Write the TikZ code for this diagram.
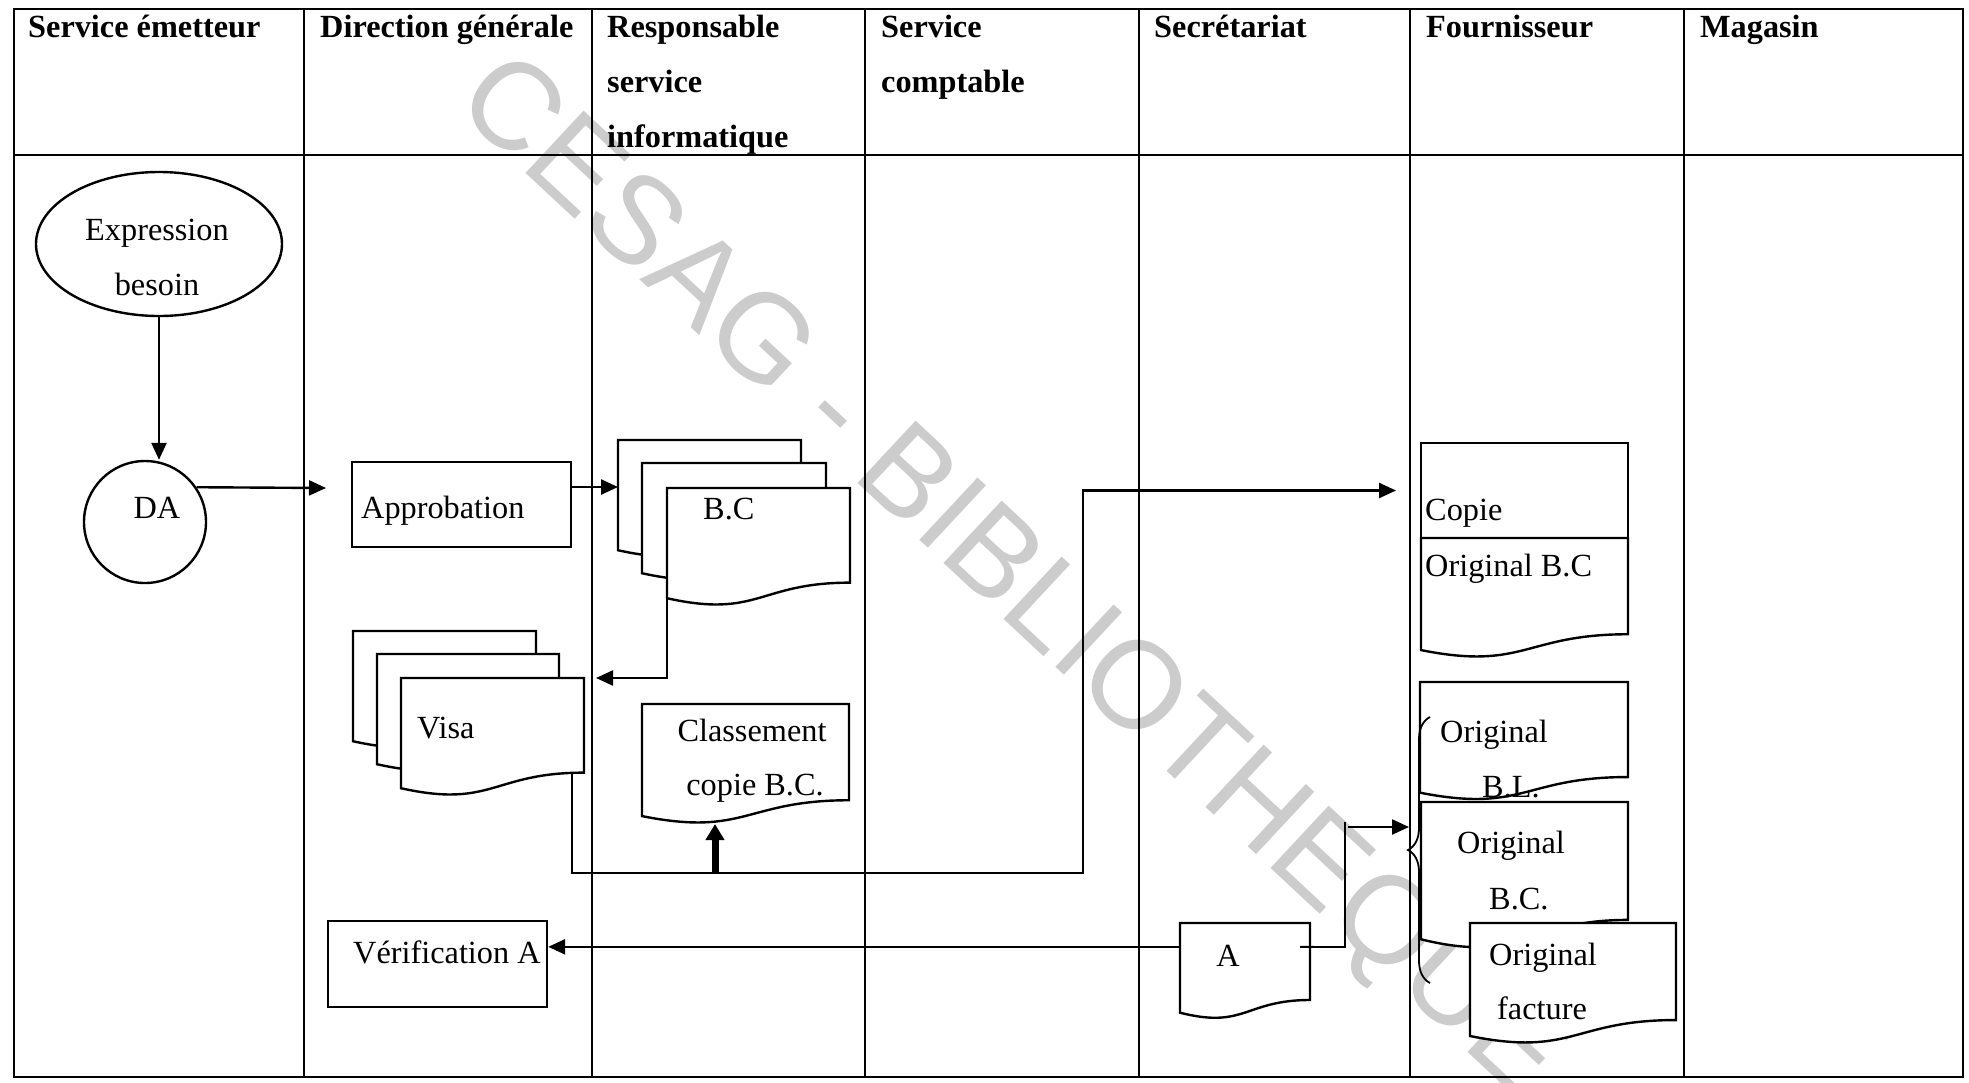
\documentclass[tikz,border=0pt]{standalone}
\usepackage{fontspec}
\setmainfont{Liberation Serif}
\newfontfamily\wmfont{Liberation Sans}
\usetikzlibrary{arrows.meta,shapes.geometric,decorations.pathreplacing,calc}
\tikzset{
  every node/.style={font=\fontsize{32.3}{55}\selectfont},
  ln/.style={line width=2.4pt},
  thinln/.style={line width=1.8pt},
  arr/.style={ln, -{Triangle[length=17pt,width=15pt]}},
  thickarr/.style={line width=7pt, -{Triangle[length=16pt,width=18pt]}},
  box/.style={draw, ln, fill=white, rectangle, inner sep=0},
  docbox/.style 2 args={inner sep=0, outer sep=0, minimum width=#1, minimum height={0.934*#2}, anchor=north west},
  docline/.style={draw, ln, fill=white},
  txt/.style={inner sep=0, anchor=base west},
  ctxt/.style={inner sep=0, anchor=base},
  hd/.style={inner sep=0, anchor=base west, font=\fontsize{32.3}{55}\selectfont\bfseries},
}
\newcommand\docout[2]{%
  \path[docline] (#1.north west) -- (#1.north east) -- ([yshift={-0.802*#2}]#1.north east)
   .. controls ([yshift={-0.802*#2}]#1.north) and ([yshift={-1.107*#2}]#1.north) .. (#1.south west) -- cycle;}
\begin{document}
\begin{tikzpicture}[x=1pt,y=-1pt]
\path[fill=white,use as bounding box] (0,0) rectangle (1969,1082);

% watermark
\node[font=\wmfont\fontsize{124}{124}\selectfont, text=black!20, rotate=-43, anchor=west, inner sep=0] (wm) at (474,82) {CESAG - BIBLIOTHEQUE};

% table
\draw[ln] (14,9) rectangle (1963,1077);
\draw[ln] (14,155) -- (1963,155);
\foreach \x in {304,592,865,1139,1410,1684} \draw[ln] (\x,9) -- (\x,1077);

% headers
\node[hd] (h1) at (28,37) {Service émetteur};
\node[hd] (h2) at (320,37) {Direction générale};
\node[hd] (h3a) at (607,37) {Responsable};
\node[hd] (h3b) at (607,92) {service};
\node[hd] (h3c) at (607,147) {informatique};
\node[hd] (h4a) at (881,37) {Service};
\node[hd] (h4b) at (881,92) {comptable};
\node[hd] (h5) at (1154,37) {Secrétariat};
\node[hd] (h6) at (1426,37) {Fournisseur};
\node[hd] (h7) at (1700,37) {Magasin};

% invisible doc nodes
\node[docbox={183}{118}] (bcB) at (618,440) {};
\node[docbox={184}{118}] (bcM) at (642,463) {};
\node[docbox={183}{118}] (bcF) at (667,488) {};
\node[docbox={183}{118}] (visaB) at (353,631) {};
\node[docbox={182}{118}] (visaM) at (377,654) {};
\node[docbox={183}{118}] (visaF) at (401,678) {};
\node[docbox={207}{120}] (clas) at (642,704) {};
\node[docbox={207}{120}] (orig1) at (1421,538) {};
\node[docbox={208}{118.5}] (bl) at (1420,682) {};
\node[docbox={207}{147}] (obc) at (1421,802) {};
\node[docbox={206}{121}] (fact) at (1470,923) {};
\node[docbox={130}{96}] (adoc) at (1180,923) {};

% shape nodes
\node[draw, ln, fill=white, ellipse, minimum width=246, minimum height=144, inner sep=0] (expr) at (159,244) {};
\node[draw, ln, fill=white, circle, minimum size=122, inner sep=0] (da) at (145,522) {};
\node[box, minimum width=219, minimum height=85] (appro) at (461.5,504.5) {};
\node[box, minimum width=219, minimum height=86] (verif) at (437.5,964) {};

% connectors
\draw[arr] (expr.south) -- (expr.south |- da.north);
\coordinate (daEnd) at (326,488);
\draw[arr] (da.34) -- (daEnd);
\draw[arr] ([yshift=17.5pt]appro.east) -- ([yshift=17.5pt]appro.east -| bcB.west);
\draw[arr] (bcF.south west) |- ([xshift=12pt]visaF.north east);
\coordinate (jBot) at (1083,873);
\coordinate (copieIn) at (1396,490.5);
\draw[arr] ([xshift=-12pt]visaF.east) |- (jBot) |- (copieIn);
\coordinate (jThick) at (715,873);
\draw[thickarr] (jThick) -- ++(0,-49);
\draw[arr] ([yshift=21pt]adoc.west) -- ([yshift=21pt]adoc.west -| verif.east);
\coordinate (aRt) at (1345,947);
\coordinate (aTop) at (1345,822);
\coordinate (aArr) at (1348,827);
\coordinate (brTip) at (1409,827);
\draw[arr] (aArr) -- (brTip);

% texts in shapes
\node[ctxt] (exprT1) at (157,240) {Expression};
\node[ctxt] (exprT2) at (157,295) {besoin};
\node[ctxt] (daT) at (157,518) {DA};
\node[txt] (approT) at (361,518) {Approbation};
\node[txt] (verifT) at (353,963) {Vérification A};

% documents
\docout{bcB}{118}
\docout{bcM}{118}
\docout{bcF}{118}
\node[txt] (bcT) at (703,519) {B.C};
\docout{visaB}{118}
\docout{visaM}{118}
\docout{visaF}{118}
\node[txt] (visaT) at (417,738) {Visa};
\docout{clas}{120}
\node[ctxt] (clasT1) at (752,741) {Classement};
\node[ctxt] (clasT2) at (755,795) {copie B.C.};

\node[box, minimum width=207, minimum height=95] (copie) at (1524.5,490.5) {};
\docout{orig1}{120}
\node[txt] (copieT) at (1425,520) {Copie};
\node[txt] (orig1T) at (1425,576) {Original B.C};

\docout{bl}{118.5}
\node[txt] (blT1) at (1440,742) {Original};
\node[txt] (blT2) at (1482,797) {B.L.};
\docout{obc}{147}
\node[txt] (obcT1) at (1457,853) {Original};
\node[txt] (obcT2) at (1489,909) {B.C.};
\docout{fact}{121}
\node[txt] (factT1) at (1489,965) {Original};
\node[txt] (factT2) at (1497,1019) {facture};

\docout{adoc}{96}
\node[ctxt] (adocT) at (1228,966) {A};
\draw[thinln] ([xshift=-10pt,yshift=21pt]adoc.east) -- (aRt) -- (aTop);

% brace
\draw[thinln, decorate, decoration={brace, amplitude=22pt}] (1430,983) -- (1430,717);
\end{tikzpicture}
\end{document}
